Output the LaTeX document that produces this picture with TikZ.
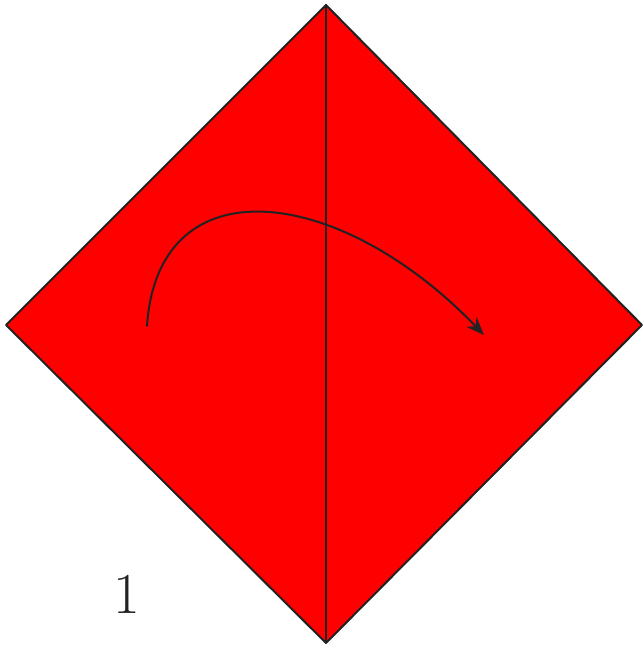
\documentclass[tikz,border=0pt]{standalone}
\usetikzlibrary{arrows.meta}
\definecolor{sheet}{RGB}{255,0,0}
\definecolor{ink}{RGB}{34,34,34}
\begin{document}
\begin{tikzpicture}[x=1pt,y=1pt,line cap=round,line join=round,every node/.style={font=\fontsize{58}{64}\selectfont}]
  \useasboundingbox (0,0) rectangle (643,647);
  \coordinate (T) at (326,642); \coordinate (L) at (6,322);
  \coordinate (R) at (642,322); \coordinate (B) at (326,4);
  \coordinate (S) at (147,321); \coordinate (E) at (484,312);
  \draw[ink,fill=sheet,line width=2pt] (T)--(R)--(B)--(L)--cycle;
  \draw[ink,line width=2pt] (T)--(B);
  \draw[ink,line width=2pt,-{Stealth[length=18pt,width=14pt]}] (S) .. controls (158,485) and (340,462) .. (E);
  \node[ink,inner sep=0pt] (n) at (127,53) {1};
\end{tikzpicture}
\end{document}
